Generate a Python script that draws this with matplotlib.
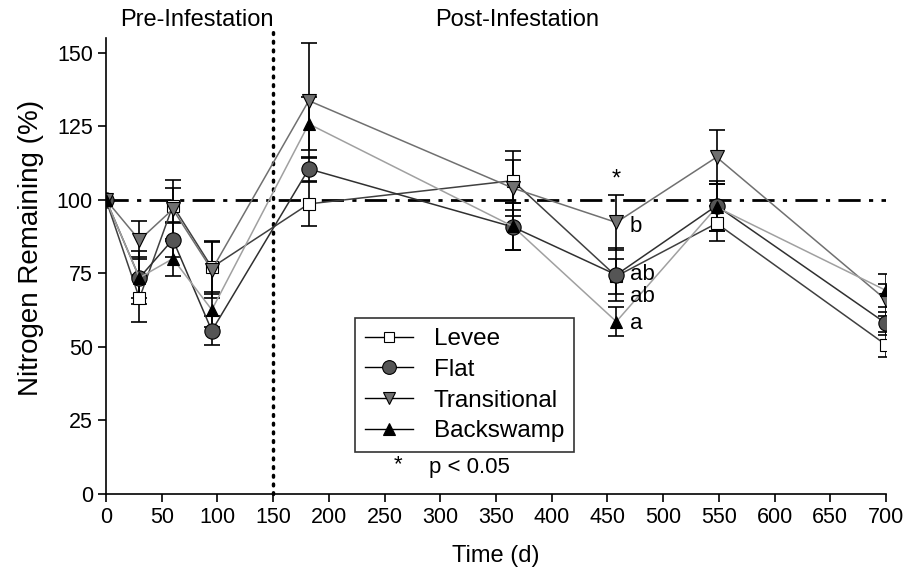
import matplotlib
matplotlib.use("Agg")
import matplotlib.pyplot as plt

plt.rcParams['font.family'] = ['Liberation Sans', 'DejaVu Sans']

days = [0, 30, 60, 95, 182, 365, 458, 548, 700]

levee = [100, 66.5, 98, 77, 98.6, 106.5, 74, 92, 50.7]
levee_se = [0, 8, 6, 9, 7.5, 10, 6, 6, 4.2]
flat = [100, 73.5, 86.5, 55.5, 110.5, 90.8, 74.5, 98, 58]
flat_se = [0, 7, 6, 5, 4, 8, 9, 8.5, 4]
trans = [100, 86.3, 96.8, 76.2, 133.7, 104, 92.3, 114.5, 66]
trans_se = [0, 6.5, 10, 9.5, 19.5, 9.6, 9.5, 9.2, 5.5]
back = [100, 73.5, 80, 62.6, 125.8, 91, 58.6, 97.5, 69.2]
back_se = [0, 9, 6, 6, 9, 8, 5, 8, 5.5]

series = [
    ("Levee", levee, levee_se, 's', 'white', '#404040', 8),
    ("Flat", flat, flat_se, 'o', '#555555', '#303030', 11),
    ("Transitional", trans, trans_se, 'v', '#707070', '#707070', 10),
    ("Backswamp", back, back_se, '^', 'black', '#a0a0a0', 9),
]

fig = plt.figure(figsize=(9.16, 5.75), dpi=100)
ax = fig.add_axes([0.1157, 0.1409, 0.8515, 0.793])

# reference lines
ax.axhline(100, color='black', lw=2, ls=(0, (8, 3, 1.5, 3)), zorder=1)
ax.plot([150, 150], [0, 157], color='black', lw=2.5, ls=(0, (0.5, 2)),
        dash_capstyle='round', clip_on=False, zorder=1)

for name, vals, se, mk, fc, lc, ms in series:
    ax.errorbar(days[1:], vals[1:], yerr=se[1:], fmt='none', ecolor='black',
                elinewidth=1.2, capsize=6, capthick=1.2, zorder=2)
for name, vals, se, mk, fc, lc, ms in series:
    ax.plot(days, vals, color=lc, lw=1.1, marker=mk, markersize=ms,
            markerfacecolor=fc, markeredgecolor='black', markeredgewidth=0.8,
            label=name, zorder=3)

# legend with black lines, like the original
handles = []
for name, vals, se, mk, fc, lc, ms in series:
    h, = ax.plot([], [], color='black', lw=1, marker=mk, markersize=ms * 0.9,
                 markerfacecolor=fc, markeredgecolor='black', markeredgewidth=0.8)
    handles.append(h)
leg = ax.legend(handles, [s[0] for s in series], loc='lower left',
                bbox_to_anchor=(0.319, 0.092), borderaxespad=0, fontsize=17.5,
                frameon=True, fancybox=False, handlelength=2.0, borderpad=0.4,
                labelspacing=0.36, handletextpad=0.85)
leg.get_frame().set_edgecolor('black')
leg.get_frame().set_linewidth(1.2)

# significance labels
ax.text(458, 107, '*', fontsize=17, ha='center', va='center')
ax.text(470, 91, 'b', fontsize=16, ha='left', va='center')
ax.text(470, 74.5, 'ab', fontsize=16, ha='left', va='center')
ax.text(470, 67, 'ab', fontsize=16, ha='left', va='center')
ax.text(470, 58, 'a', fontsize=16, ha='left', va='center')
ax.text(262, 10, '*', fontsize=16, ha='center', va='center')
ax.text(290, 9, 'p < 0.05', fontsize=16, ha='left', va='center')

ax.text(82, 161, 'Pre-Infestation', fontsize=17, ha='center', va='center')
ax.text(369, 161, 'Post-Infestation', fontsize=17, ha='center', va='center')

ax.set_xlim(0, 700)
ax.set_ylim(0, 155)
ax.set_xticks(range(0, 701, 50))
ax.set_yticks(range(0, 151, 25))
ax.tick_params(labelsize=15.5, direction='out', length=6, width=1.2)
ax.spines['top'].set_visible(False)
ax.spines['right'].set_visible(False)
ax.spines['left'].set_linewidth(1.2)
ax.spines['bottom'].set_linewidth(1.2)
ax.set_xlabel('Time (d)', fontsize=17, labelpad=12)
ax.set_ylabel('Nitrogen Remaining (%)', fontsize=20)
ax.yaxis.set_label_coords(-0.08, 0.54)

fig.savefig('out.png', dpi=100)
